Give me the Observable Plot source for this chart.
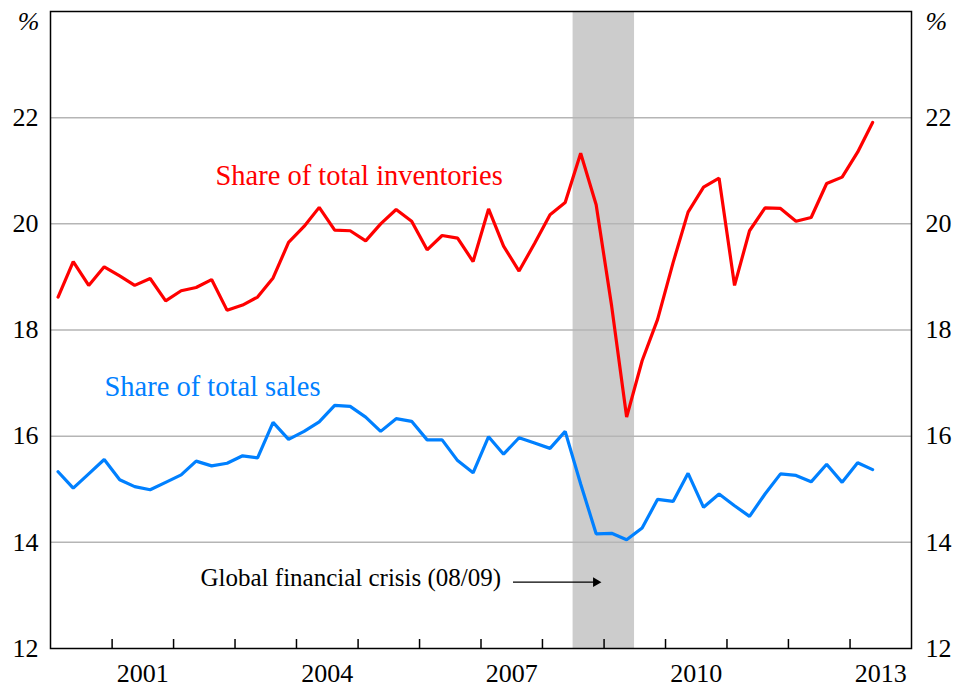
<!DOCTYPE html>
<html>
<head>
<meta charset="utf-8">
<script src="https://cdn.jsdelivr.net/npm/d3@7"></script>
<script src="https://cdn.jsdelivr.net/npm/@observablehq/plot@0.6"></script>
<style>
  html, body { margin: 0; padding: 0; background: #fff; }
</style>
</head>
<body>
<div id="chart"></div>
<script>
// Quarterly data, 2000 Q1 – 2013 Q2
const startYear = 2000;
const inventories = [
  18.62, 19.29, 18.84, 19.19, 19.02, 18.84, 18.97, 18.55,
  18.74, 18.80, 18.95, 18.37, 18.47, 18.62, 18.98, 19.65,
  19.95, 20.31, 19.88, 19.87, 19.68, 20.00, 20.27, 20.05,
  19.51, 19.78, 19.73, 19.29, 20.28, 19.58, 19.11, 19.63,
  20.17, 20.40, 21.33, 20.36, 18.45, 16.36, 17.42, 18.20,
  19.27, 20.22, 20.69, 20.86, 18.84, 19.87, 20.30, 20.29,
  20.05, 20.12, 20.76, 20.88, 21.35, 21.91
];
const sales = [
  15.33, 15.02, 15.29, 15.56, 15.18, 15.05, 14.99, 15.13,
  15.27, 15.53, 15.44, 15.49, 15.63, 15.59, 16.26, 15.94,
  16.09, 16.27, 16.58, 16.56, 16.36, 16.09, 16.33, 16.28,
  15.93, 15.93, 15.54, 15.31, 15.99, 15.66, 15.97, 15.87,
  15.77, 16.09, 15.10, 14.16, 14.17, 14.05, 14.27, 14.81,
  14.77, 15.30, 14.66, 14.91, 14.69, 14.49, 14.91, 15.29,
  15.26, 15.14, 15.47, 15.13, 15.50, 15.37
];
const yTicks = [12, 14, 16, 18, 20, 22];
const gridTicks = [14, 16, 18, 20, 22];
const yearTicks = d3.range(2001, 2014);           // year boundaries (tick marks)
const yearLabels = [2001, 2004, 2007, 2010, 2013]; // labelled years
const crisis = [{start: "2008-07-01", end: "2009-07-01"}];
const seriesLabels = [
  {text: "Share of total inventories", date: "2005-01-07", value: 20.91, color: "#ff0000"},
  {text: "Share of total sales", date: "2002-08-20", value: 16.93, color: "#0080ff"}
];
const annotation = [{text: "Global financial crisis (08/09)", date: "2002-06-10", value: 13.32}];
const arrowData = [{from: "2007-07-10", to: "2008-11-25", value: 13.25}];

const quarterDate = i => new Date(Date.UTC(startYear + Math.floor(i / 4), (i % 4) * 3 + 1, 15));
const invData = inventories.map((v, i) => ({date: quarterDate(i), value: v}));
const salesData = sales.map((v, i) => ({date: quarterDate(i), value: v}));
const d = s => new Date(s + "T00:00:00Z");
const yearDate = y => new Date(Date.UTC(y, 0, 1));
const midYear = y => new Date(Date.UTC(y, 6, 2));

const font = "'Liberation Serif', 'Times New Roman', Times, serif";

const chart = Plot.plot({
  width: 957,
  height: 688,
  marginLeft: 50,
  marginRight: 46,
  marginTop: 11,
  marginBottom: 40,
  style: {fontFamily: font, fontSize: "26px", color: "#000", background: "#fff"},
  x: {type: "utc", domain: [yearDate(2000), yearDate(2014)], axis: null},
  y: {domain: [12, 24], axis: null},
  marks: [
    Plot.rect(crisis, {x1: r => d(r.start), x2: r => d(r.end), fill: "#cccccc"}),
    Plot.ruleY(gridTicks, {stroke: "#b5b5b5", strokeWidth: 1.5}),
    Plot.line(invData, {x: "date", y: "value", stroke: "#ff0000", strokeWidth: 3.2, strokeLinejoin: "miter"}),
    Plot.line(salesData, {x: "date", y: "value", stroke: "#0080ff", strokeWidth: 3.2, strokeLinejoin: "miter"}),
    Plot.text(seriesLabels, {x: r => d(r.date), y: "value", text: "text", fill: "color", fontSize: 28.5, fontFamily: font, textAnchor: "middle"}),
    Plot.text(annotation, {x: r => d(r.date), y: "value", text: "text", fill: "#000", fontSize: 25, fontFamily: font, textAnchor: "start"}),
    Plot.link(arrowData, {x1: r => d(r.from), x2: r => d(r.to), y1: "value", y2: "value", stroke: "#000", strokeWidth: 1.3}),
    Plot.dot(arrowData, {x: r => d(r.to), y: "value", symbol: "triangle", rotate: 90, r: 3.6, fill: "#000", stroke: "none", dx: -2}),
    Plot.frame({stroke: "#000", strokeWidth: 1.5}),
    Plot.axisX({anchor: "bottom", ticks: yearTicks.map(yearDate), tickSize: -9, tickFormat: () => "", strokeWidth: 1.5, label: null}),
    // tick labels as text marks positioned through the scales
    Plot.text(yTicks, {y: v => v, text: v => String(v), frameAnchor: "left", dx: -12, textAnchor: "end", lineAnchor: "middle", fontSize: 26, fontFamily: font}),
    Plot.text(yTicks, {y: v => v, text: v => String(v), frameAnchor: "right", dx: 14, textAnchor: "start", lineAnchor: "middle", fontSize: 26, fontFamily: font}),
    Plot.text(yearLabels, {x: y => midYear(y), text: y => String(y), frameAnchor: "bottom", dy: 15, lineAnchor: "top", textAnchor: "middle", fontSize: 26, fontFamily: font}),
    Plot.text(["%"], {frameAnchor: "top-left", dx: -11, dy: 10, textAnchor: "end", lineAnchor: "middle", fontSize: 26, fontFamily: font, fontStyle: "italic"}),
    Plot.text(["%"], {frameAnchor: "top-right", dx: 14, dy: 10, textAnchor: "start", lineAnchor: "middle", fontSize: 26, fontFamily: font, fontStyle: "italic"})
  ]
});
document.getElementById("chart").appendChild(chart);
</script>
</body>
</html>
